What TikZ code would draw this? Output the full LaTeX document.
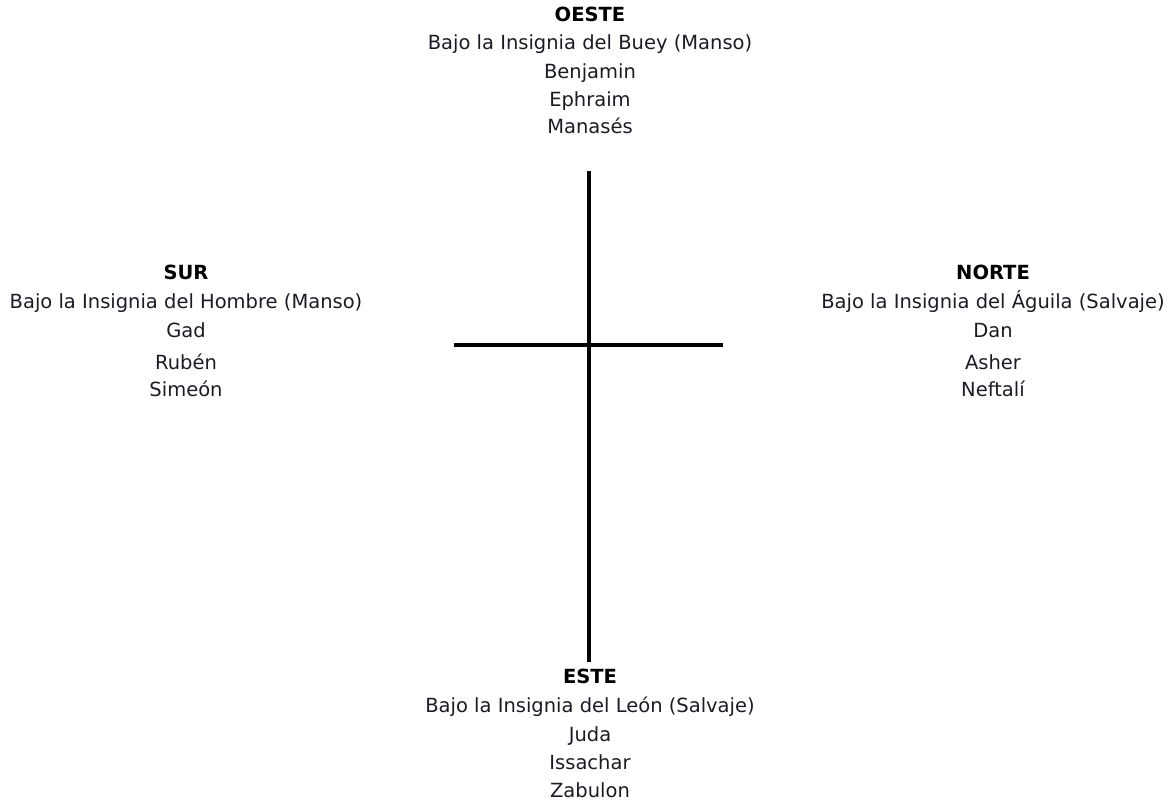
\documentclass[tikz,border=0pt]{standalone}
\usepackage{fontspec}
\setmainfont{DejaVu Sans}
\usepackage{xcolor}
\usetikzlibrary{positioning}
\definecolor{TxtDark}{HTML}{1E1A24}

\tikzset{
  tribe/.style={anchor=base, inner sep=0pt, text=TxtDark, font=\fontsize{19.5}{22}\selectfont},
  camp/.style={anchor=base, inner sep=0pt, text=black, font=\fontsize{19.5}{22}\selectfont\bfseries},
  arm/.style={line width=3.6pt, black}
}

\begin{document}
\begin{tikzpicture}[x=1pt, y=-1pt]
  \useasboundingbox (0,0) rectangle (1168,802);
  % cross
  \coordinate (top) at (589,171);
  \coordinate (bottom) at (589,662);
  \coordinate (left) at (454,345);
  \coordinate (right) at (723,345);
  \draw[arm] (top) -- (bottom);
  \draw[arm] (left) -- (right);
  % west (top)
  \node[camp] (oeste) at (590,22) {OESTE};
  \node[tribe] (oesteflag) at (590,50) {Bajo la Insignia del Buey (Manso)};
  \node[tribe] (benjamin) at (590,79) {Benjamin};
  \node[tribe] (ephraim) at (590,107) {Ephraim};
  \node[tribe] (manases) at (590,134) {Manasés};
  % south (left)
  \node[camp] (sur) at (186,280) {SUR};
  \node[tribe] (surflag) at (186,309) {Bajo la Insignia del Hombre (Manso)};
  \node[tribe] (gad) at (186,338) {Gad};
  \node[tribe] (ruben) at (186,370) {Rubén};
  \node[tribe] (simeon) at (186,397) {Simeón};
  % north (right)
  \node[camp] (norte) at (993,280) {NORTE};
  \node[tribe] (norteflag) at (993,309) {Bajo la Insignia del Águila (Salvaje)};
  \node[tribe] (dan) at (993,338) {Dan};
  \node[tribe] (asher) at (993,370) {Asher};
  \node[tribe] (neftali) at (993,397) {Neftalí};
  % east (bottom)
  \node[camp] (este) at (590,683) {ESTE};
  \node[tribe] (esteflag) at (590,712) {Bajo la Insignia del León (Salvaje)};
  \node[tribe] (juda) at (590,741) {Juda};
  \node[tribe] (issachar) at (590,769) {Issachar};
  \node[tribe] (zabulon) at (590,797) {Zabulon};
\end{tikzpicture}
\end{document}
